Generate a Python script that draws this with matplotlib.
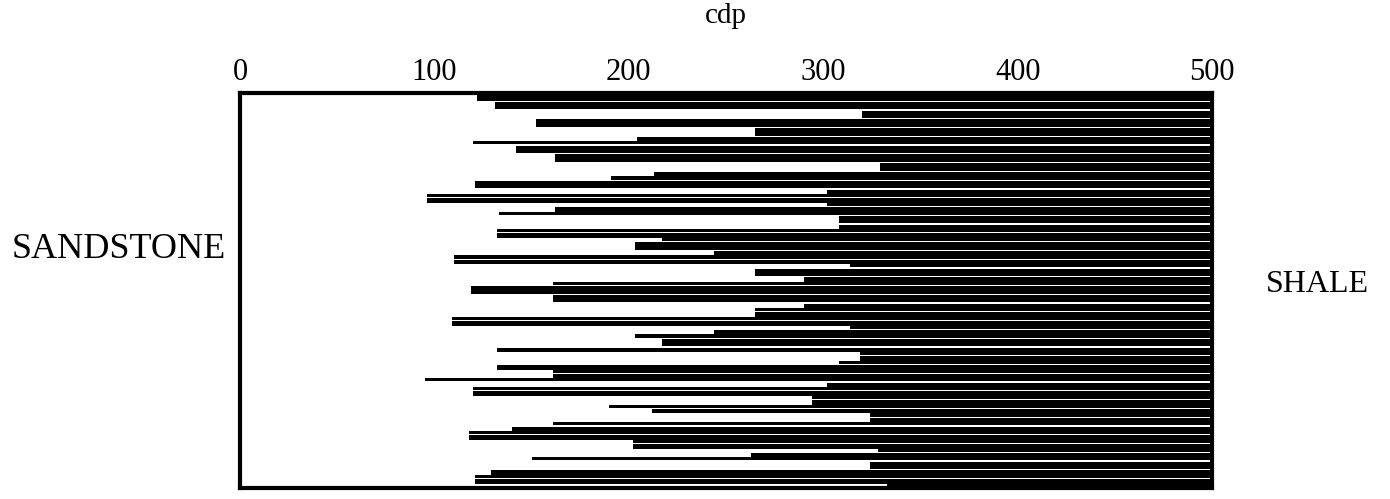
import matplotlib.pyplot as plt

# left edge (cdp) of the shale in each thin layer, top to bottom
layer_start = [122, 122, 131, 131, 320, 320, 152, 152, 265, 265,
               204, 120, 142, 142, 162, 162, 329, 329, 213, 191,
               121, 121, 302, 96, 96, 302, 162, 133, 308, 308,
               308, 132, 132, 217, 203, 203, 244, 110, 110, 314,
               265, 265, 290, 161, 119, 119, 161, 161, 290, 265,
               265, 109, 109, 314, 244, 203, 217, 217, 132, 319,
               319, 308, 132, 161, 161, 95, 302, 120, 120, 294,
               294, 190, 212, 324, 324, 161, 140, 118, 118, 202,
               202, 328, 263, 150, 324, 324, 129, 121, 121, 333]
cdp_max = 500
cdp_ticks = [0, 100, 200, 300, 400, 500]

plt.rcParams['font.family'] = ['Liberation Serif', 'DejaVu Serif']

fig = plt.figure(figsize=(13.9, 4.99), dpi=100)
ax = fig.add_axes([0.1727, 0.022, 0.6993, 0.7916])

for i, s in enumerate(layer_start):
    # every second layer leaves a thin white seam below it
    h = 1.0 if i % 2 == 0 else 0.72
    ax.barh(i - 0.5, cdp_max - s, left=s, height=h, align='edge',
            color='black', linewidth=0)

ax.set_xlim(0, cdp_max)
ax.set_ylim(len(layer_start) - 0.5, -0.5)
ax.xaxis.tick_top()
ax.set_xticks(cdp_ticks)
ax.set_xticklabels([str(t) for t in cdp_ticks], fontsize=22)
ax.tick_params(axis='x', length=0, pad=4)
ax.set_yticks([])
for sp in ax.spines.values():
    sp.set_linewidth(3)

fig.text(0.522, 0.968, 'cdp', ha='center', va='center', fontsize=21)
fig.text(0.0856, 0.499, 'SANDSTONE', ha='center', va='center', fontsize=26)
fig.text(0.948, 0.429, 'SHALE', ha='center', va='center', fontsize=23)

fig.savefig('out.png', dpi=100)
